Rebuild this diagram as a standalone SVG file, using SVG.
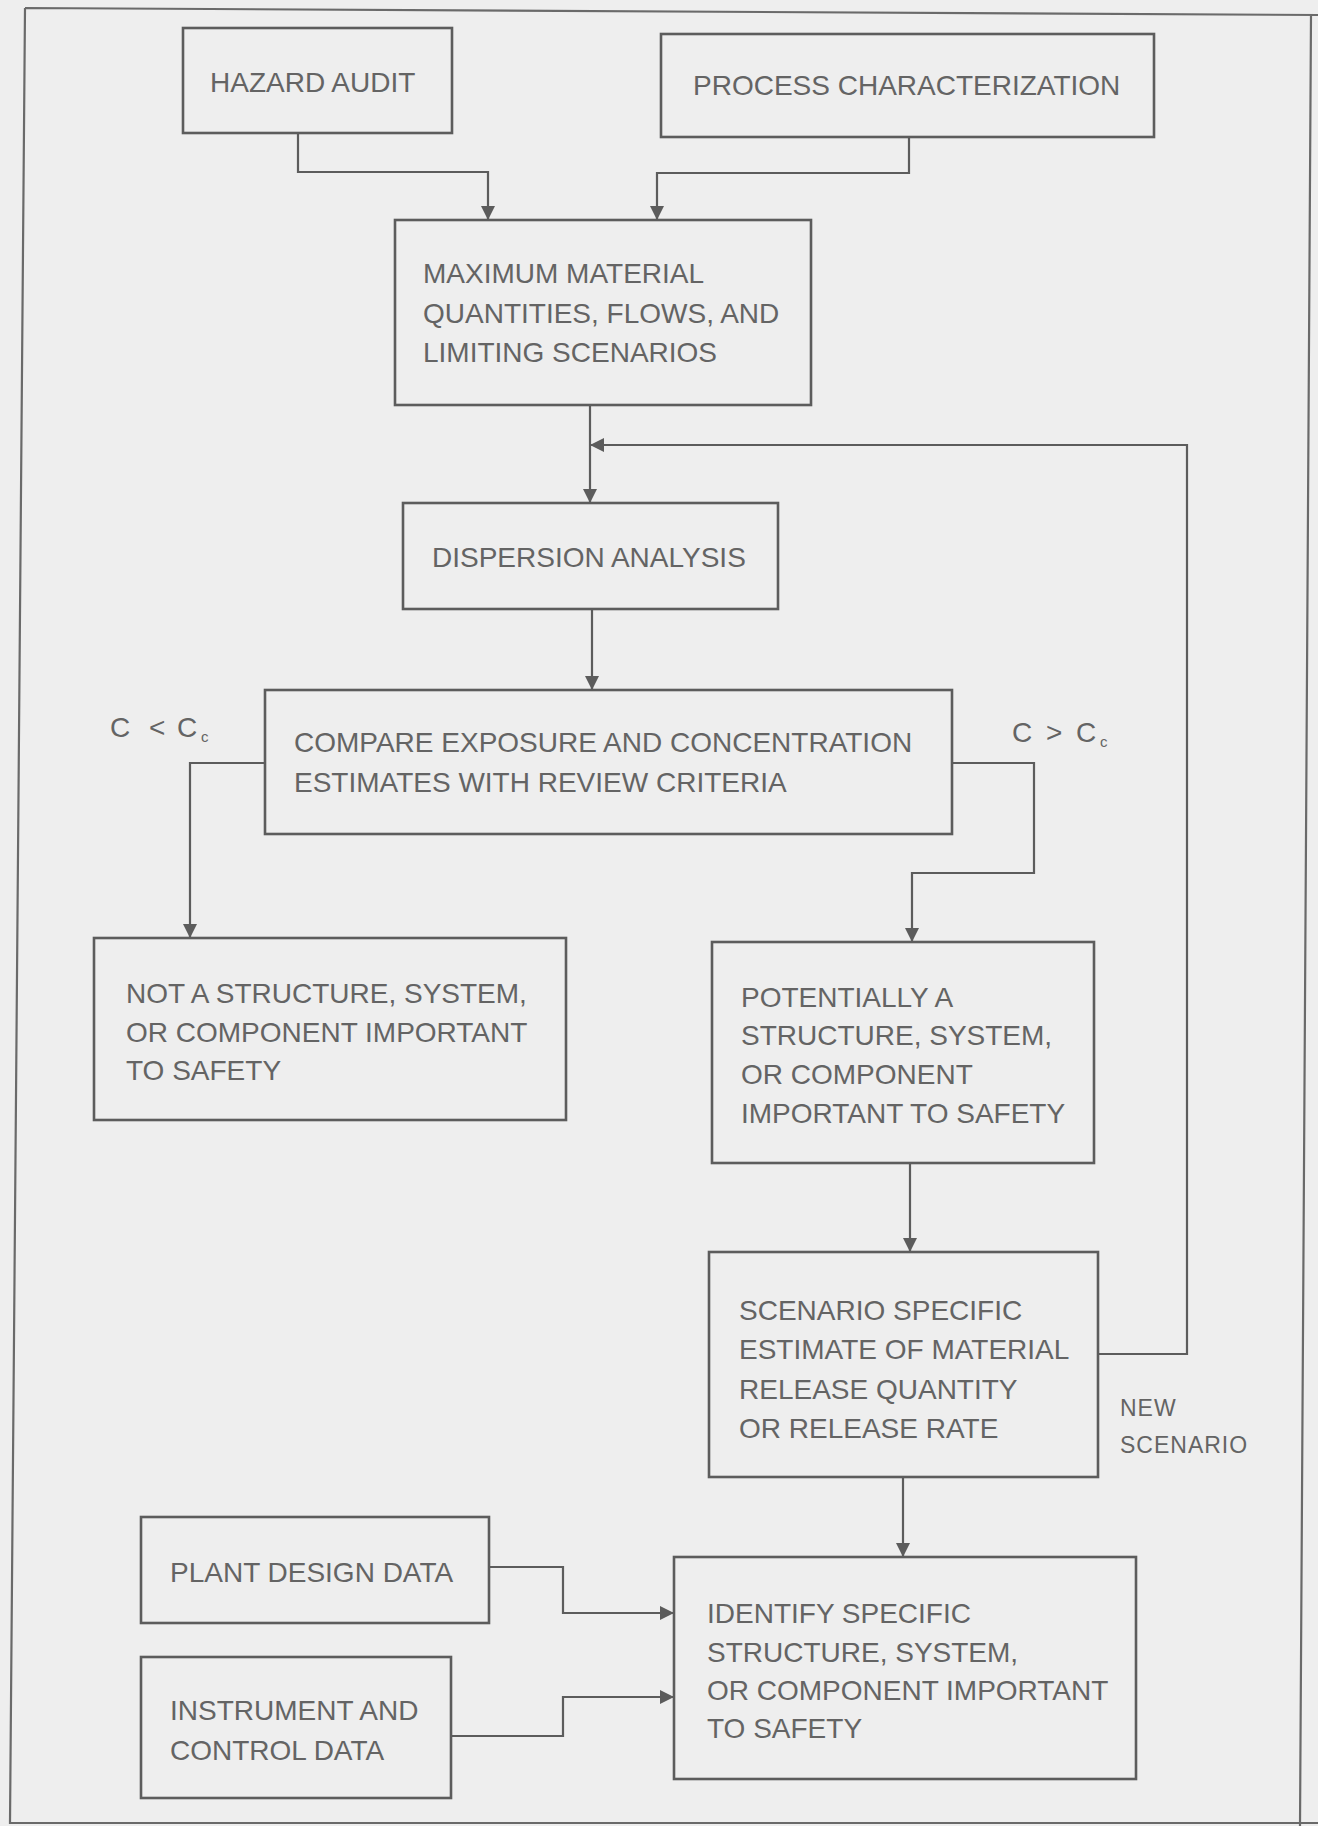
<svg xmlns="http://www.w3.org/2000/svg" width="1318" height="1826" viewBox="0 0 1318 1826">
  <style>
    .box { fill: none; stroke: #5c5c5c; stroke-width: 2.6; }
    .wire { fill: none; stroke: #5c5c5c; stroke-width: 2.2; }
    .frame { fill: none; stroke: #6a6a6a; stroke-width: 2.2; }
    text { font-family: "Liberation Sans", Arial, sans-serif; font-size: 28px; fill: #646464; }
    .small { font-size: 23px; letter-spacing: 1px; }
    .sub { font-size: 15px; }
  </style>
  <defs>
    <marker id="arrow" markerUnits="userSpaceOnUse" markerWidth="16" markerHeight="16" refX="14" refY="7" orient="auto">
      <path d="M0,0 L14,7 L0,14 z" fill="#5c5c5c"/>
    </marker>
  </defs>

  <!-- paper -->
  <rect x="0" y="0" width="1318" height="1826" fill="#eeeeee"/>

  <!-- page frame -->
  <path class="frame" d="M25 8 L1318 15 M1311 15 L1300 1826 M25 8 L10 1823 L1318 1823"/>

  <!-- connectors -->
  <g id="connectors">
    <path class="wire" d="M298 133 V172 H488 V220" marker-end="url(#arrow)"/>
    <path class="wire" d="M909 137 V173 H657 V220" marker-end="url(#arrow)"/>
    <path class="wire" d="M590 405 V503" marker-end="url(#arrow)"/>
    <path class="wire" d="M1098 1354 H1187 V445 H590" marker-end="url(#arrow)"/>
    <path class="wire" d="M592 609 V690" marker-end="url(#arrow)"/>
    <path class="wire" d="M265 763 H190 V938" marker-end="url(#arrow)"/>
    <path class="wire" d="M952 763 H1034 V873 H912 V942" marker-end="url(#arrow)"/>
    <path class="wire" d="M910 1163 V1252" marker-end="url(#arrow)"/>
    <path class="wire" d="M903 1477 V1557" marker-end="url(#arrow)"/>
    <path class="wire" d="M489 1567 H563 V1613 H674" marker-end="url(#arrow)"/>
    <path class="wire" d="M451 1736 H563 V1697 H674" marker-end="url(#arrow)"/>
  </g>

  <!-- branch labels -->
  <g id="label-less">
    <text x="110" y="737">C</text>
    <text x="149" y="737">&lt;</text>
    <text x="177" y="737">C</text>
    <text class="sub" x="201" y="742">c</text>
  </g>
  <g id="label-greater">
    <text x="1012" y="742">C</text>
    <text x="1046" y="742">&gt;</text>
    <text x="1076" y="742">C</text>
    <text class="sub" x="1100" y="747">c</text>
  </g>
  <g id="label-new-scenario">
    <text class="small" x="1120" y="1416">NEW</text>
    <text class="small" x="1120" y="1453">SCENARIO</text>
  </g>

  <!-- nodes -->
  <g id="hazard-audit">
    <rect class="box" x="183" y="28" width="269" height="105"/>
    <text x="210" y="92">HAZARD AUDIT</text>
  </g>
  <g id="process-characterization">
    <rect class="box" x="661" y="34" width="493" height="103"/>
    <text x="693" y="95">PROCESS CHARACTERIZATION</text>
  </g>
  <g id="maximum-material">
    <rect class="box" x="395" y="220" width="416" height="185"/>
    <text x="423" y="283">MAXIMUM MATERIAL</text>
    <text x="423" y="323">QUANTITIES, FLOWS, AND</text>
    <text x="423" y="362">LIMITING SCENARIOS</text>
  </g>
  <g id="dispersion-analysis">
    <rect class="box" x="403" y="503" width="375" height="106"/>
    <text x="432" y="567">DISPERSION ANALYSIS</text>
  </g>
  <g id="compare">
    <rect class="box" x="265" y="690" width="687" height="144"/>
    <text x="294" y="752">COMPARE EXPOSURE AND CONCENTRATION</text>
    <text x="294" y="792">ESTIMATES WITH REVIEW CRITERIA</text>
  </g>
  <g id="not-important">
    <rect class="box" x="94" y="938" width="472" height="182"/>
    <text x="126" y="1003">NOT A STRUCTURE, SYSTEM,</text>
    <text x="126" y="1042">OR COMPONENT IMPORTANT</text>
    <text x="126" y="1080">TO SAFETY</text>
  </g>
  <g id="potentially-important">
    <rect class="box" x="712" y="942" width="382" height="221"/>
    <text x="741" y="1007">POTENTIALLY A</text>
    <text x="741" y="1045">STRUCTURE, SYSTEM,</text>
    <text x="741" y="1084">OR COMPONENT</text>
    <text x="741" y="1123">IMPORTANT TO SAFETY</text>
  </g>
  <g id="scenario-estimate">
    <rect class="box" x="709" y="1252" width="389" height="225"/>
    <text x="739" y="1320">SCENARIO SPECIFIC</text>
    <text x="739" y="1359">ESTIMATE OF MATERIAL</text>
    <text x="739" y="1399">RELEASE QUANTITY</text>
    <text x="739" y="1438">OR RELEASE RATE</text>
  </g>
  <g id="plant-design-data">
    <rect class="box" x="141" y="1517" width="348" height="106"/>
    <text x="170" y="1582">PLANT DESIGN DATA</text>
  </g>
  <g id="instrument-control-data">
    <rect class="box" x="141" y="1657" width="310" height="141"/>
    <text x="170" y="1720">INSTRUMENT AND</text>
    <text x="170" y="1760">CONTROL DATA</text>
  </g>
  <g id="identify-specific">
    <rect class="box" x="674" y="1557" width="462" height="222"/>
    <text x="707" y="1623">IDENTIFY SPECIFIC</text>
    <text x="707" y="1662">STRUCTURE, SYSTEM,</text>
    <text x="707" y="1700">OR COMPONENT IMPORTANT</text>
    <text x="707" y="1738">TO SAFETY</text>
  </g>
</svg>
